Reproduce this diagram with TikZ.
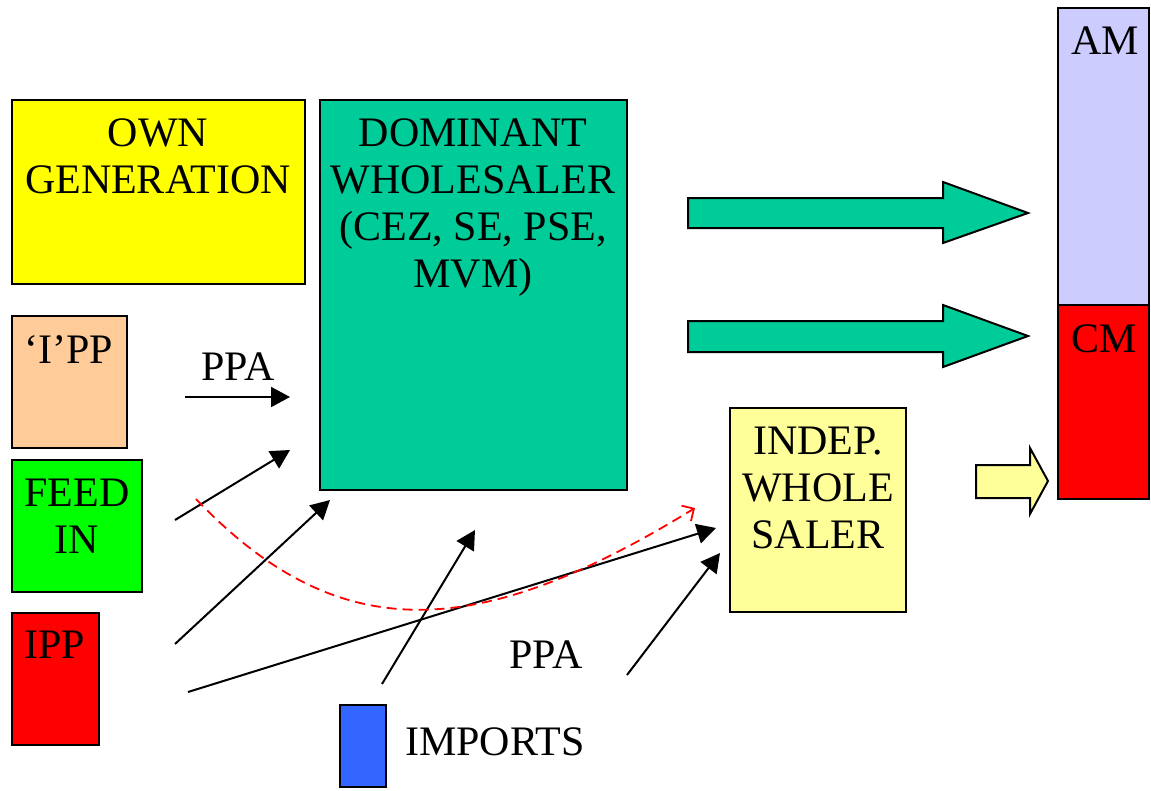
\documentclass[tikz,border=0pt]{standalone}
\usepackage{fontspec}
\setmainfont{Liberation Serif}
\usetikzlibrary{arrows.meta}
\definecolor{teal1}{HTML}{00CC99}
\definecolor{yel1}{HTML}{FFFF00}
\definecolor{peach}{HTML}{FFCC99}
\definecolor{grn1}{HTML}{00FF00}
\definecolor{red1}{HTML}{FF0000}
\definecolor{lav}{HTML}{CCCCFF}
\definecolor{ltyel}{HTML}{FFFF99}
\definecolor{blu1}{HTML}{3366FF}
\begin{document}
\begin{tikzpicture}[x=1pt,y=-1pt,
  boxst/.style={draw=black,line width=2pt},
  lbl/.style={inner sep=0pt,font=\fontsize{42}{47}\selectfont,align=center},
  thinarrow/.style={line width=2pt,-{Triangle[length=19pt,width=20pt]}},
  redarrow/.style={draw=red1,line width=1.8pt,dash pattern=on 10pt off 6pt,-{Straight Barb[length=9pt,width=18pt,line width=1.8pt]}},
  blockarrow/.style={draw=black,line width=2pt,line join=miter}]
\useasboundingbox (0,0) rectangle (1151,790);
% boxes
\path[boxst,fill=yel1] (12,100) rectangle (305,284);
\node[lbl,anchor=north] (own) at (158,118) {OWN\\GENERATION};
\path[boxst,fill=teal1] (320,100) rectangle (627,490);
\node[lbl,anchor=north] (dom) at (473,118) {DOMINANT\\WHOLESALER\\(CEZ, SE, PSE,\\MVM)};
\path[boxst,fill=peach] (12,316) rectangle (127,448);
\node[lbl,anchor=north] (ipp1) at (69,335) {‘I’PP};
\path[boxst,fill=grn1] (12,460) rectangle (142,592);
\node[lbl,anchor=north] (feed) at (77,479) {FEED\\IN};
\path[boxst,fill=red1] (12,613) rectangle (99,745);
\node[lbl,anchor=base] (ipp) at (55,658) {IPP};
\path[boxst,fill=blu1] (340,705) rectangle (386,787);
\node[lbl,anchor=base] (imp) at (495,755) {IMPORTS};
\path[boxst,fill=ltyel] (730,408) rectangle (906,612);
\node[lbl,anchor=north] (indep) at (818,427) {INDEP.\\WHOLE\\SALER};
\path[boxst,fill=lav] (1058,8) rectangle (1149,305);
\node[lbl,anchor=base] (am) at (1105,54) {AM};
\path[boxst,fill=red1] (1058,305) rectangle (1149,499);
\node[lbl,anchor=base] (cm) at (1104,352) {CM};
% block arrows
\path[blockarrow,fill=teal1] (688,198) -- (943,198) -- (943,182) -- (1028,213) -- (943,243) -- (943,228) -- (688,228) -- cycle;
\path[blockarrow,fill=teal1] (688,321) -- (943,321) -- (943,305) -- (1028,336) -- (943,367) -- (943,352) -- (688,352) -- cycle;
\path[blockarrow,fill=ltyel] (976,465) -- (1030,465) -- (1030,448) -- (1048,481) -- (1030,514) -- (1030,498) -- (976,498) -- cycle;
% labels
\node[lbl,anchor=base] (ppa1) at (238,380) {PPA};
\node[lbl,anchor=base] (ppa2) at (546,668) {PPA};
% thin arrow end points
\coordinate (a1s) at (185,397); \coordinate (a1e) at (290,397);
\coordinate (a2s) at (175,520); \coordinate (a2e) at (290,450);
\coordinate (a3s) at (175,644); \coordinate (a3e) at (330,500);
\coordinate (a4s) at (188,692); \coordinate (a4e) at (716,528);
\coordinate (a5s) at (382,684); \coordinate (a5e) at (475,530);
\coordinate (a6s) at (627,675); \coordinate (a6e) at (720,553);
\coordinate (rs) at (196,499); \coordinate (re) at (695,508);
\draw[thinarrow] (a1s) -- (a1e);
\draw[thinarrow] (a2s) -- (a2e);
\draw[thinarrow] (a3s) -- (a3e);
\draw[thinarrow] (a4s) -- (a4e);
\draw[thinarrow] (a5s) -- (a5e);
\draw[thinarrow] (a6s) -- (a6e);
\draw[redarrow] (rs) .. controls (340,650) and (480,640) .. (re);
\end{tikzpicture}
\end{document}
